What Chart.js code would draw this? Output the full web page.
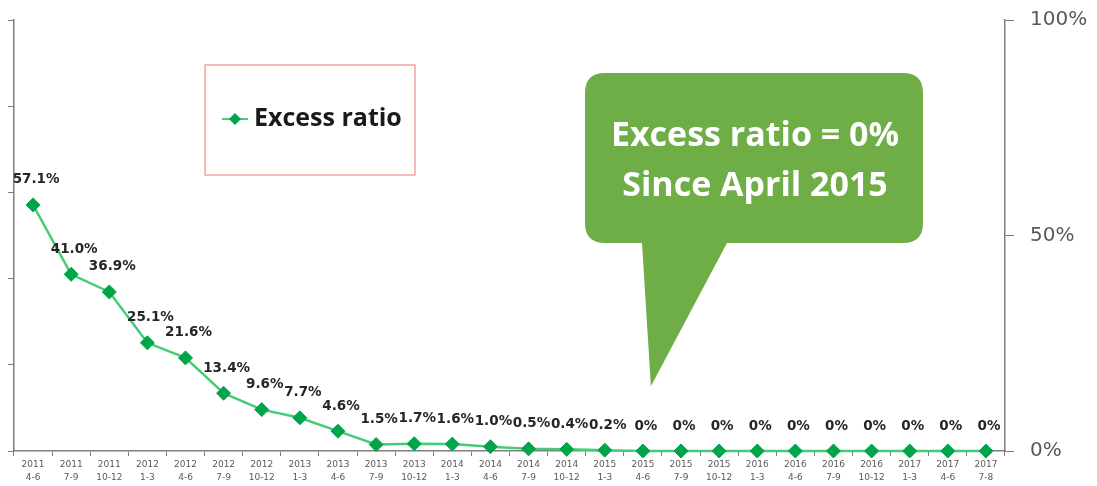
<!DOCTYPE html>
<html>
<head>
<meta charset="utf-8">
<script src="https://cdn.jsdelivr.net/npm/chart.js@4.4.1/dist/chart.umd.min.js"></script>
<style>
  html, body { margin: 0; padding: 0; background: #fff; }
  #wrap { width: 1097px; height: 486px; position: relative; }
</style>
</head>
<body>
<div id="wrap"><canvas id="chart"></canvas></div>
<script>
// quarter labels (year / months)
const years = ['2011', '2011', '2011', '2012', '2012', '2012', '2012', '2013', '2013', '2013',
  '2013', '2014', '2014', '2014', '2014', '2015', '2015', '2015', '2015', '2016',
  '2016', '2016', '2016', '2017', '2017', '2017'];
const periods = ['4-6', '7-9', '10-12', '1-3', '4-6', '7-9', '10-12', '1-3', '4-6', '7-9',
  '10-12', '1-3', '4-6', '7-9', '10-12', '1-3', '4-6', '7-9', '10-12', '1-3',
  '4-6', '7-9', '10-12', '1-3', '4-6', '7-8'];

// excess ratio, percent
const excessRatio = [57.1, 41.0, 36.9, 25.1, 21.6, 13.4, 9.6, 7.7, 4.6, 1.5,
  1.7, 1.6, 1.0, 0.5, 0.4, 0.2, 0, 0, 0, 0,
  0, 0, 0, 0, 0, 0];

const rightTicks = [0, 50, 100];
const seriesName = 'Excess ratio';
const calloutLines = ['Excess ratio = 0%', 'Since April 2015'];

const LINE_COLOR = '#46cc78';
const MARKER_COLOR = '#00a54a';
const CALLOUT_COLOR = '#6fad47';

const labels = years.map((y, i) => [y, periods[i]]);

function fmtPct(v) {
  return v === 0 ? '0%' : v.toFixed(1) + '%';
}

// value labels above each point
const valueLabelPlugin = {
  id: 'valueLabels',
  afterDatasetsDraw(chart) {
    const ctx = chart.ctx;
    const meta = chart.getDatasetMeta(0);
    ctx.save();
    ctx.font = 'bold 13.5px "DejaVu Sans"';
    ctx.fillStyle = '#262626';
    ctx.textAlign = 'center';
    ctx.textBaseline = 'middle';
    meta.data.forEach((pt, i) => {
      ctx.fillText(fmtPct(excessRatio[i]), pt.x + 3, pt.y - 25);
    });
    ctx.restore();
  }
};

// floating legend box + speech-bubble callout
const overlayPlugin = {
  id: 'overlay',
  afterDraw(chart) {
    const ctx = chart.ctx;
    const area = chart.chartArea;
    const xs = chart.scales.x;
    const ys = chart.scales.y;
    ctx.save();

    // legend box
    const lx = area.left + 191, ly = 65, lw = 210, lh = 110;
    ctx.strokeStyle = '#f3a3a3';
    ctx.lineWidth = 1.5;
    ctx.strokeRect(lx, ly, lw, lh);
    const cy = ly + lh / 2 - 1;
    ctx.strokeStyle = LINE_COLOR;
    ctx.lineWidth = 2;
    ctx.beginPath();
    ctx.moveTo(lx + 17, cy);
    ctx.lineTo(lx + 43, cy);
    ctx.stroke();
    ctx.fillStyle = MARKER_COLOR;
    ctx.beginPath();
    ctx.moveTo(lx + 30, cy - 6);
    ctx.lineTo(lx + 36, cy);
    ctx.lineTo(lx + 30, cy + 6);
    ctx.lineTo(lx + 24, cy);
    ctx.closePath();
    ctx.fill();
    ctx.fillStyle = '#1a1a1a';
    ctx.font = 'bold 25px "Open Sans"';
    ctx.textAlign = 'left';
    ctx.textBaseline = 'middle';
    ctx.fillText(seriesName, lx + 49, cy);

    // callout bubble, tail pointing at April 2015 on the line
    const tipX = xs.getPixelForValue(16) + 8;
    const tipY = ys.getPixelForValue(15);
    const bx = 585, by = 73, bw = 338, bh = 170, r = 20;
    ctx.fillStyle = CALLOUT_COLOR;
    ctx.beginPath();
    ctx.moveTo(bx + r, by);
    ctx.lineTo(bx + bw - r, by);
    ctx.quadraticCurveTo(bx + bw, by, bx + bw, by + r);
    ctx.lineTo(bx + bw, by + bh - r);
    ctx.quadraticCurveTo(bx + bw, by + bh, bx + bw - r, by + bh);
    ctx.lineTo(727, by + bh);
    ctx.lineTo(tipX, tipY);
    ctx.lineTo(642, by + bh);
    ctx.lineTo(bx + r, by + bh);
    ctx.quadraticCurveTo(bx, by + bh, bx, by + bh - r);
    ctx.lineTo(bx, by + r);
    ctx.quadraticCurveTo(bx, by, bx + r, by);
    ctx.closePath();
    ctx.fill();

    ctx.fillStyle = '#ffffff';
    ctx.font = 'bold 34px "Open Sans"';
    ctx.textAlign = 'center';
    ctx.textBaseline = 'middle';
    ctx.fillText(calloutLines[0], bx + bw / 2 + 1, 136);
    ctx.fillText(calloutLines[1], bx + bw / 2 + 1, 186);

    ctx.restore();
  }
};

Chart.defaults.font.family = '"DejaVu Sans", sans-serif';

new Chart(document.getElementById('chart'), {
  type: 'line',
  data: {
    labels: labels,
    datasets: [{
      label: seriesName,
      data: excessRatio,
      borderColor: LINE_COLOR,
      borderWidth: 2.5,
      pointStyle: 'rectRot',
      pointRadius: 7,
      pointBackgroundColor: MARKER_COLOR,
      pointBorderColor: MARKER_COLOR,
      pointBorderWidth: 1,
      tension: 0,
      clip: false,
      yAxisID: 'y'
    }]
  },
  options: {
    responsive: true,
    maintainAspectRatio: false,
    animation: false,
    layout: { padding: { top: 20, left: 0, right: 0, bottom: 0 } },
    plugins: {
      legend: { display: false },
      tooltip: { enabled: false }
    },
    scales: {
      x: {
        offset: true,
        grid: {
          offset: true,
          drawOnChartArea: false,
          tickLength: 5,
          color: '#7f7f7f'
        },
        border: { color: '#7f7f7f', width: 1.5 },
        ticks: {
          autoSkip: false,
          maxRotation: 0,
          padding: 2,
          color: '#595959',
          font: { size: 9, lineHeight: 1.45 }
        },
        afterFit(scale) {
          scale.height = 35;
          scale.paddingLeft = 0;
          scale.paddingRight = 0;
        }
      },
      y: {
        position: 'left',
        min: 0,
        max: 100,
        ticks: { stepSize: 20, display: false },
        grid: { drawOnChartArea: false, tickLength: 6, color: '#7f7f7f' },
        border: { color: '#7f7f7f', width: 1.5 },
        afterFit(scale) {
          scale.width = 14;
          scale.paddingTop = 0;
          scale.paddingBottom = 0;
        }
      },
      y2: {
        position: 'right',
        min: 0,
        max: 100,
        afterBuildTicks(scale) {
          scale.ticks = rightTicks.map(v => ({ value: v }));
        },
        ticks: {
          color: '#595959',
          padding: 16,
          font: { size: 20 },
          callback: v => v + '%'
        },
        grid: { drawOnChartArea: false, tickLength: 9, color: '#7f7f7f' },
        border: { color: '#7f7f7f', width: 1.5 },
        afterFit(scale) {
          scale.width = 92;
          scale.paddingTop = 0;
          scale.paddingBottom = 0;
        }
      }
    }
  },
  plugins: [valueLabelPlugin, overlayPlugin]
});
</script>
</body>
</html>
